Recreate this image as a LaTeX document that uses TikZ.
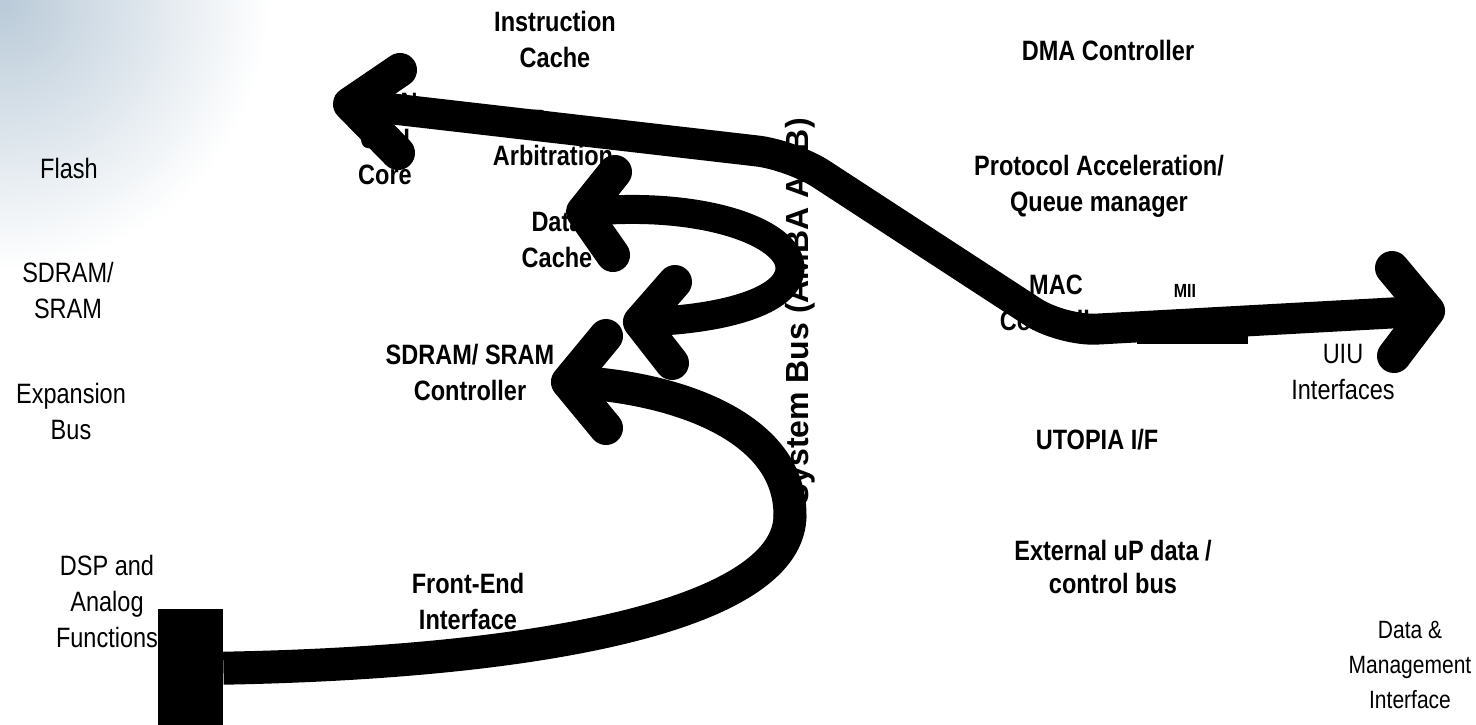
\documentclass[tikz,border=0pt]{standalone}
\usepackage{fontspec}
\setmainfont{Liberation Sans}
\newfontfamily\narrowsans[FakeStretch=0.84]{Liberation Sans}
\begin{document}
\begin{tikzpicture}[x=1pt,y=-1pt,
  lbl/.style={align=center,inner sep=0pt,font=\narrowsans\fontsize{28}{36}\selectfont},
  blbl/.style={align=center,inner sep=0pt,font=\narrowsans\bfseries\fontsize{28}{36}\selectfont},
  band/.style={draw=black,line width=31pt,line cap=round,line join=round},
  chevron/.style={draw=black,line width=34pt,line cap=round,line join=round},
  block/.style={fill=black,inner sep=0pt,anchor=north west}]

\useasboundingbox (0,0) rectangle (1476,724);

% soft tint in the upper left corner
\begin{scope}
  \clip (0,0) rectangle (1476,724);
  \shade[inner color={rgb,255:red,185;green,202;blue,216},outer color=white] (0,0) circle (270);
\end{scope}

% block labels
\node[blbl] (icache) at (555,39) {Instruction\\Cache};
\node[blbl] (dma) at (1108,50) {DMA Controller};
\node[blbl] (cpu) at (385,139) {LEON\\CPU\\Core};
\node[blbl] (arb) at (553,138) {Bus\\Arbitration};
\node[lbl] (flash) at (69,168) {Flash};
\node[blbl] (pacc) at (1099,186) {Protocol Acceleration/\\Queue manager};
\node[blbl] (dcache) at (557,240) {Data\\Cache};
\node[lbl] (sdram) at (68,290) {SDRAM/\\SRAM};
\node[blbl] (mac) at (1056,303) {MAC\\Controller};
\node[blbl,font=\narrowsans\bfseries\fontsize{19}{22}\selectfont] (mii) at (1185,291) {MII};
\node[blbl] (sdctl) at (470,372) {SDRAM/ SRAM\\Controller};
\node[lbl] (uiu) at (1343,372) {UIU\\Interfaces};
\node[lbl] (exp) at (71,411) {Expansion\\Bus};
\node[blbl] (utopia) at (1097,440) {UTOPIA I/F};
\node[lbl] (dsp) at (107,601) {DSP and\\Analog\\Functions};
\node[blbl] (fe) at (468,601) {Front-End\\Interface};
\node[blbl,font=\narrowsans\bfseries\fontsize{28}{33}\selectfont] (ext) at (1113,567) {External uP data /\\control bus};
\node[lbl,font=\narrowsans\fontsize{25}{35}\selectfont] (dmi) at (1410,665) {Data \&\\Management\\Interface};
\node[inner sep=0pt,rotate=90,font=\bfseries\fontsize{32}{38}\selectfont] (sysbus) at (800,312) {System Bus (AMBA AHB)};

% solid blocks
\node[block,minimum width=65pt,minimum height=118pt] (dspbox) at (158,609) {};
\node[block,minimum width=111pt,minimum height=16pt] (miibox) at (1137,328) {};

% main bus: CPU side to the line interfaces
\coordinate (Ltip) at (350,104);
\coordinate (La) at (400,70);
\coordinate (Lb) at (398,153);
\coordinate (bendA) at (792,155);
\coordinate (bendB) at (1062,331);
\coordinate (Rtip) at (1428,311);
\coordinate (Ra) at (1392,268);
\coordinate (Rb) at (1394,356);
\draw[band,rounded corners=35pt] (Ltip) -- (bendA) -- (bendB) -- (Rtip);
\draw[chevron] (La) -- (Ltip) -- (Lb);
\draw[chevron] (Ra) -- (Rtip) -- (Rb);

% data cache loop
\coordinate (Dtip) at (583,212);
\coordinate (Da) at (615,172);
\coordinate (Db) at (613,255);
\coordinate (loop) at (790,268);
\coordinate (Stip) at (640,322);
\coordinate (Sa) at (675,282);
\coordinate (Sb) at (672,363);
\draw[band,line width=29pt] (Dtip) .. controls (700,200) and (790,232) .. (loop)
                   .. controls (790,302) and (720,320) .. (Stip);
\draw[chevron] (Da) -- (Dtip) -- (Db);
\draw[chevron] (Sa) -- (Stip) -- (Sb);

% front-end path to the memory controller
\coordinate (Ctip) at (568,382);
\coordinate (Ca) at (606,336);
\coordinate (Cb) at (606,428);
\coordinate (turn) at (790,515);
\draw[band,line width=33pt,line cap=butt] (dspbox.east) .. controls (560,662) and (790,610) .. (turn);
\draw[band,line width=33pt] (turn) .. controls (790,420) and (660,385) .. (Ctip);
\draw[chevron] (Ca) -- (Ctip) -- (Cb);
\end{tikzpicture}
\end{document}
